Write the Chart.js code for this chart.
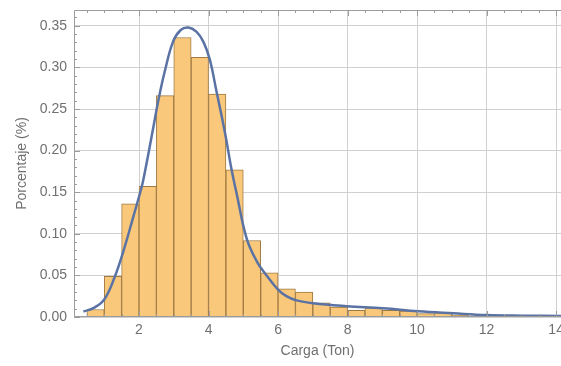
<!DOCTYPE html>
<html>
<head>
<meta charset="utf-8">
<script src="https://cdn.jsdelivr.net/npm/chart.js@4.4.1/dist/chart.umd.min.js"></script>
<style>
  body { margin: 0; background: #fff; }
  #histChart { display: block; }
</style>
</head>
<body>
<canvas id="histChart" width="561" height="366"></canvas>
<script>
// Histogram carga (kelas 0.5 ton)
const binWidth = 0.5;
const binLefts = [0.5, 1, 1.5, 2, 2.5, 3, 3.5, 4, 4.5, 5, 5.5, 6, 6.5, 7, 7.5,
  8, 8.5, 9, 9.5, 10, 10.5, 11, 11.5, 12, 12.5, 13, 13.5];
const binValues = [0.009, 0.049, 0.136, 0.157, 0.266, 0.336, 0.312, 0.268, 0.177,
  0.092, 0.053, 0.034, 0.030, 0.017, 0.012, 0.008, 0.011, 0.008, 0.007, 0.004,
  0.005, 0.002, 0.001, 0.001, 0.001, 0.001, 0.001];

// Kurva ajuste
const curveX = [0.40, 0.70, 1.00, 1.30, 1.55, 1.84, 2.03, 2.12, 2.39, 2.55, 2.74,
  2.98, 3.20, 3.42, 3.65, 3.85, 4.04, 4.22, 4.48, 4.65, 4.81, 5.10, 5.40, 5.67,
  6.00, 6.24, 6.53, 7.01, 7.97, 9.02, 10.03, 11.05, 12.0, 13.0, 14.14];
const curveY = [0.0066, 0.011, 0.021, 0.048, 0.079, 0.121, 0.149, 0.164, 0.223,
  0.259, 0.295, 0.331, 0.345, 0.348, 0.343, 0.331, 0.309, 0.273, 0.220, 0.180,
  0.148, 0.094, 0.066, 0.050, 0.033, 0.025, 0.020, 0.0165, 0.013, 0.0104,
  0.0068, 0.0044, 0.0024, 0.0016, 0.0012];

const xTicks = [2, 4, 6, 8, 10, 12, 14];
const yTicks = [0, 0.05, 0.10, 0.15, 0.20, 0.25, 0.30, 0.35];
const xRange = [0.13, 14.14];
const yRange = [0, 0.369];

const textColor = "#707070";
const gridColor = "#d0d0d0";
const frameColor = "#9c9c9c";

// Bingkai + tick kecil ala Mathematica (sisi kanan terpotong di gambar asli)
const frameTicks = {
  id: "frameTicks",
  afterDatasetsDraw(chart) {
    const { ctx, chartArea: a, scales: { x, y } } = chart;
    ctx.save();
    ctx.strokeStyle = frameColor;
    ctx.lineWidth = 1;
    ctx.beginPath();
    ctx.moveTo(a.right, a.top + 0.5); ctx.lineTo(a.left + 0.5, a.top + 0.5);
    ctx.lineTo(a.left + 0.5, a.bottom - 0.5); ctx.lineTo(a.right, a.bottom - 0.5);
    for (let i = 1; i <= 28; i++) {
      const v = i * 0.5;
      const px = Math.round(x.getPixelForValue(v)) + 0.5;
      if (px < a.left || px > a.right) continue;
      const len = i % 4 === 0 ? 6 : 3;
      ctx.moveTo(px, a.top); ctx.lineTo(px, a.top + len);
      ctx.moveTo(px, a.bottom); ctx.lineTo(px, a.bottom - len);
    }
    for (let i = 0; i <= 36; i++) {
      const py = Math.round(y.getPixelForValue(i * 0.01)) + 0.5;
      const len = i % 5 === 0 ? 6 : 3;
      ctx.moveTo(a.left, py); ctx.lineTo(a.left + len, py);
    }
    ctx.stroke();
    ctx.restore();
  }
};

const ctx = document.getElementById("histChart").getContext("2d");
const histChart = new Chart(ctx, {
  type: "bar",
  data: {
    datasets: [
      {
        type: "line",
        label: "Ajuste",
        data: curveX.map((v, i) => ({ x: v, y: curveY[i] })),
        borderColor: "#5a73a4",
        borderWidth: 2.5,
        pointRadius: 0,
        tension: 0.4,
        fill: false,
        order: 0,
      },
      {
        label: "Histograma",
        data: binLefts.map((v, i) => ({ x: v + binWidth / 2, y: binValues[i] })),
        backgroundColor: "rgb(250, 200, 122)",
        borderColor: "rgb(160, 122, 66)",
        borderWidth: 1,
        barPercentage: 1,
        categoryPercentage: 1,
        order: 1,
      },
    ],
  },
  options: {
    responsive: false,
    animation: false,
    layout: { padding: { top: 10, left: 0, right: 0, bottom: 0 } },
    plugins: { legend: { display: false }, tooltip: { enabled: false } },
    scales: {
      x: {
        type: "linear",
        offset: false,
        min: xRange[0],
        max: xRange[1],
        grid: { color: gridColor, offset: false, drawTicks: false },
        border: { display: false },
        afterBuildTicks: (s) => { s.ticks = xTicks.map((v) => ({ value: v })); },
        afterFit: (s) => { s.height = 49; s.paddingLeft = 0; s.paddingRight = 0; },
        ticks: {
          padding: 5,
          color: textColor,
          maxRotation: 0,
          font: { family: "'Liberation Sans', Arial, sans-serif", size: 14 },
        },
        title: {
          display: true,
          text: "Carga (Ton)",
          color: textColor,
          padding: { top: 0, bottom: 6 },
          font: { family: "'Liberation Sans', Arial, sans-serif", size: 14 },
        },
      },
      y: {
        min: yRange[0],
        max: yRange[1],
        grid: { color: gridColor, drawTicks: false },
        border: { display: false },
        afterBuildTicks: (s) => { s.ticks = yTicks.map((v) => ({ value: v })); },
        afterFit: (s) => { s.width = 74; s.paddingTop = 0; s.paddingBottom = 0; },
        ticks: {
          padding: 7,
          color: textColor,
          callback: (v) => Number(v).toFixed(2),
          font: { family: "'Liberation Sans', Arial, sans-serif", size: 14 },
        },
        title: {
          display: true,
          text: "Porcentaje (%)",
          color: textColor,
          padding: { top: 14, bottom: 0 },
          font: { family: "'Liberation Sans', Arial, sans-serif", size: 14 },
        },
      },
    },
  },
  plugins: [frameTicks],
});
</script>
</body>
</html>
